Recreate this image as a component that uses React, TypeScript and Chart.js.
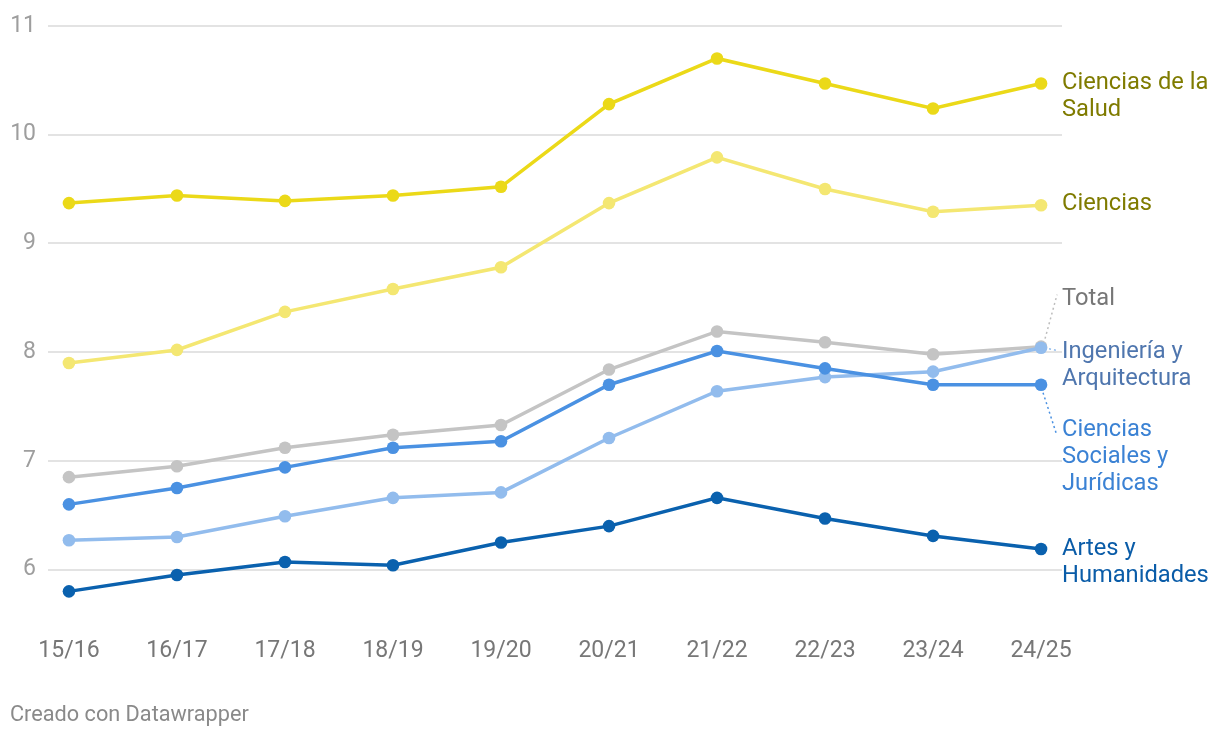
import React, { useEffect, useRef } from "react";
import { Chart, registerables } from "chart.js";

Chart.register(...registerables);

const categories = ["15/16", "16/17", "17/18", "18/19", "19/20", "20/21", "21/22", "22/23", "23/24", "24/25"];
const yTicks = [6, 7, 8, 9, 10, 11];

const saludValues = [9.37, 9.44, 9.39, 9.44, 9.52, 10.28, 10.7, 10.47, 10.24, 10.47];
const cienciasValues = [7.9, 8.02, 8.37, 8.58, 8.78, 9.37, 9.79, 9.5, 9.29, 9.35];
const totalValues = [6.85, 6.95, 7.12, 7.24, 7.33, 7.84, 8.19, 8.09, 7.98, 8.05];
const sociales = [6.6, 6.75, 6.94, 7.12, 7.18, 7.7, 8.01, 7.85, 7.7, 7.7];
const ingenieria = [6.27, 6.3, 6.49, 6.66, 6.71, 7.21, 7.64, 7.77, 7.82, 8.04];
const artes = [5.8, 5.95, 6.07, 6.04, 6.25, 6.4, 6.66, 6.47, 6.31, 6.19];

type Series = {
  name: string[];
  values: number[];
  color: string;
  labelColor: string;
  dy: number;
  leader?: [number, number, number, number];
  leaderColor?: string;
};

const series: Series[] = [
  { name: ["Ciencias de la", "Salud"], values: saludValues, color: "#ebd918", labelColor: "#7f7b00", dy: 0 },
  { name: ["Ciencias"], values: cienciasValues, color: "#f4e772", labelColor: "#7f7b00", dy: -1 },
  { name: ["Artes y", "Humanidades"], values: artes, color: "#0a61ae", labelColor: "#0a5ca8", dy: 0 },
  {
    name: ["Ciencias", "Sociales y", "Jurídicas"], values: sociales, color: "#4a91e2", labelColor: "#3b82d4", dy: 45,
    leader: [2, 8, 15, 48], leaderColor: "#4a91e2",
  },
  {
    name: ["Ingeniería y", "Arquitectura"], values: ingenieria, color: "#92bced", labelColor: "#4f76ae", dy: 4,
    leader: [8, 1, 17, 3], leaderColor: "#92bced",
  },
  {
    name: ["Total"], values: totalValues, color: "#c4c4c4", labelColor: "#777777", dy: -48,
    leader: [4, -8, 16, -52], leaderColor: "#bdbdbd",
  },
];

const FONT = "Roboto, 'Noto Sans', sans-serif";

const labelPlugin = {
  id: "rightLabels",
  afterDatasetsDraw(chart: any) {
    const ctx = chart.ctx;
    const xs = chart.scales.x;
    const ys = chart.scales.y;
    ctx.save();
    series.forEach((s) => {
      const last = s.values.length - 1;
      const px = xs.getPixelForValue(last);
      const py = ys.getPixelForValue(s.values[last]);
      if (s.leader) {
        const [x1, y1, x2, y2] = s.leader;
        ctx.beginPath();
        ctx.setLineDash([2, 3]);
        ctx.strokeStyle = s.leaderColor;
        ctx.lineWidth = 1.5;
        ctx.moveTo(px + x1, py + y1);
        ctx.lineTo(px + x2, py + y2);
        ctx.stroke();
        ctx.setLineDash([]);
      }
      ctx.fillStyle = s.labelColor;
      ctx.font = `23.7px ${FONT}`;
      ctx.textAlign = "left";
      ctx.textBaseline = "middle";
      s.name.forEach((line, i) => {
        ctx.fillText(line, chart.chartArea.right, py + s.dy + i * 27);
      });
    });
    ctx.fillStyle = "#8a8a8a";
    ctx.font = `21.7px ${FONT}`;
    ctx.textAlign = "left";
    ctx.textBaseline = "middle";
    ctx.fillText("Creado con Datawrapper", 10, 716);
    ctx.restore();
  },
};

export default function App() {
  const ref = useRef<HTMLCanvasElement | null>(null);
  useEffect(() => {
    document.body.style.margin = "0";
    const canvas = ref.current!;
    const chart = new Chart(canvas, {
      type: "line",
      data: {
        datasets: series.map((s) => ({
          label: s.name.join(" "),
          data: s.values.map((v, i) => ({ x: i, y: v })),
          borderColor: s.color,
          backgroundColor: s.color,
          borderWidth: 3.5,
          pointRadius: 6.3,
          pointHoverRadius: 6.3,
          pointBorderWidth: 0,
          tension: 0,
        })),
      },
      options: {
        animation: false,
        responsive: false,
        devicePixelRatio: 1,
        layout: { padding: { left: 0, right: 158, top: 23, bottom: 56 } },
        plugins: { legend: { display: false }, tooltip: { enabled: false } },
        scales: {
          x: {
            type: "linear",
            min: -0.194,
            max: 9.194,
            afterBuildTicks: (sc: any) => {
              sc.ticks = categories.map((_, i) => ({ value: i }));
            },
            afterFit: (sc: any) => {
              sc.height = 60;
            },
            grid: { display: false, drawTicks: false },
            border: { display: false },
            ticks: {
              autoSkip: false,
              maxRotation: 0,
              padding: 13,
              color: "#777777",
              font: { family: FONT, size: 23 },
              callback: (v: any) => categories[v] ?? "",
            },
          },
          y: {
            min: 5.5,
            max: 11,
            afterBuildTicks: (sc: any) => {
              sc.ticks = yTicks.map((v) => ({ value: v }));
            },
            afterFit: (sc: any) => {
              sc.width = 48;
            },
            grid: { color: "#e3e3e3", lineWidth: 2, drawTicks: false },
            border: { display: false },
            ticks: {
              padding: 12,
              color: "#9e9e9e",
              font: { family: FONT, size: 23 },
            },
          },
        },
      },
      plugins: [labelPlugin],
    } as any);
    return () => chart.destroy();
  }, []);
  return <canvas ref={ref} width={1220} height={740} style={{ display: "block", width: 1220, height: 740 }} />;
}
